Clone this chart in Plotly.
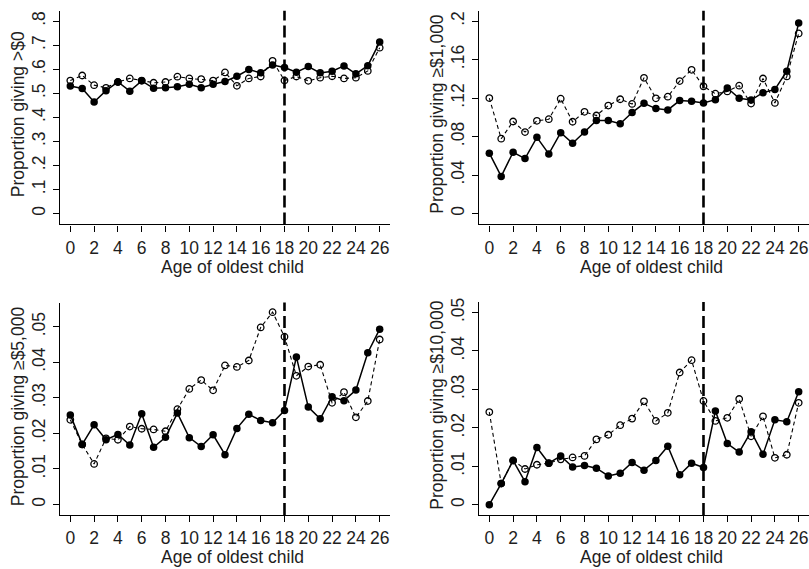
import plotly.graph_objects as go

# ---------------- data ----------------
AGES = list(range(27))
CUTOFF_AGE = 18

# Panel 1: proportion giving > $0
P0_SOLID = [0.530, 0.520, 0.464, 0.511, 0.547, 0.509, 0.552, 0.521, 0.523, 0.527,
            0.538, 0.523, 0.538, 0.549, 0.571, 0.599, 0.585, 0.618, 0.607, 0.588,
            0.611, 0.585, 0.592, 0.614, 0.581, 0.615, 0.713]
P0_HOLLOW = [0.553, 0.574, 0.534, 0.523, 0.547, 0.562, 0.553, 0.544, 0.547, 0.569,
             0.562, 0.559, 0.553, 0.587, 0.531, 0.562, 0.570, 0.635, 0.553, 0.570,
             0.552, 0.565, 0.571, 0.562, 0.565, 0.593, 0.690]

# Panel 2: proportion giving >= $1,000
P1K_SOLID = [0.0627, 0.0386, 0.0637, 0.0571, 0.0792, 0.0620, 0.0840, 0.0730, 0.0847, 0.0967,
             0.0967, 0.0933, 0.1050, 0.1146, 0.1091, 0.1077, 0.1174, 0.1167, 0.1150, 0.1184,
             0.1305, 0.1198, 0.1180, 0.1256, 0.1290, 0.1480, 0.1980]
P1K_HOLLOW = [0.1200, 0.0778, 0.0957, 0.0847, 0.0964, 0.0981, 0.1194, 0.0954, 0.1057, 0.1019,
              0.1122, 0.1188, 0.1139, 0.1411, 0.1198, 0.1215, 0.1377, 0.1494, 0.1322, 0.1246,
              0.1270, 0.1329, 0.1143, 0.1404, 0.1150, 0.1425, 0.1873]

# Panel 3: proportion giving >= $5,000
P5K_SOLID = [0.0252, 0.0169, 0.0224, 0.0182, 0.0197, 0.0167, 0.0255, 0.0161, 0.0189, 0.0257,
             0.0188, 0.0163, 0.0196, 0.0140, 0.0214, 0.0254, 0.0236, 0.0230, 0.0264, 0.0415,
             0.0274, 0.0241, 0.0303, 0.0292, 0.0322, 0.0427, 0.0493]
P5K_HOLLOW = [0.0238, 0.0169, 0.0114, 0.0186, 0.0182, 0.0219, 0.0213, 0.0211, 0.0206, 0.0268,
              0.0325, 0.0350, 0.0321, 0.0391, 0.0387, 0.0405, 0.0498, 0.0541, 0.0472, 0.0362,
              0.0388, 0.0393, 0.0286, 0.0316, 0.0245, 0.0291, 0.0464]

# Panel 4: proportion giving >= $10,000
P10K_SOLID = [0.0000, 0.0055, 0.0115, 0.0060, 0.0149, 0.0108, 0.0127, 0.0098, 0.0102, 0.0095,
              0.0075, 0.0082, 0.0110, 0.0090, 0.0115, 0.0152, 0.0078, 0.0108, 0.0097, 0.0244,
              0.0159, 0.0137, 0.0190, 0.0131, 0.0221, 0.0216, 0.0294]
P10K_HOLLOW = [0.0241, 0.0055, 0.0115, 0.0093, 0.0104, 0.0108, 0.0118, 0.0123, 0.0127, 0.0170,
               0.0182, 0.0207, 0.0224, 0.0269, 0.0218, 0.0239, 0.0344, 0.0376, 0.0270, 0.0218,
               0.0226, 0.0275, 0.0178, 0.0230, 0.0122, 0.0130, 0.0265]

X_TICKS = list(range(0, 27, 2))
Y1_TICKS = [0, 0.1, 0.2, 0.3, 0.4, 0.5, 0.6, 0.7, 0.8]
Y1_LABELS = ["0", ".1", ".2", ".3", ".4", ".5", ".6", ".7", ".8"]
Y2_TICKS = [0, 0.04, 0.08, 0.12, 0.16, 0.2]
Y2_LABELS = ["0", ".04", ".08", ".12", ".16", ".2"]
Y3_TICKS = [0, 0.01, 0.02, 0.03, 0.04, 0.05]
Y3_LABELS = ["0", ".01", ".02", ".03", ".04", ".05"]

Y_TITLES = ["Proportion giving &gt;$0", "Proportion giving \u2265$1,000",
            "Proportion giving \u2265$5,000", "Proportion giving \u2265$10,000"]
X_TITLE = "Age of oldest child"

# ---------------- layout geometry ----------------
W, H = 809, 569
FONT = "Liberation Sans, Arial, Helvetica, sans-serif"
TXT = "#1e1e1e"
FS = 17.5


def px(v):
    return v / W


def py(v):
    return 1 - v / H


panels = [
    dict(solid=P0_SOLID, hollow=P0_HOLLOW, xdom=(59.6, 389.8), ydom=(222, 6.7),
         yrange=(-0.0454, 0.8438), yt=Y1_TICKS, yl=Y1_LABELS, ytc=111, xtc=264.5),
    dict(solid=P1K_SOLID, hollow=P1K_HOLLOW, xdom=(478.6, 808.8), ydom=(222, 6.7),
         yrange=(-0.01136, 0.21094), yt=Y2_TICKS, yl=Y2_LABELS, ytc=110.5, xtc=264.5),
    dict(solid=P5K_SOLID, hollow=P5K_HOLLOW, xdom=(59.6, 389.8), ydom=(514.7, 300.7),
         yrange=(-0.00299, 0.05679), yt=Y3_TICKS, yl=Y3_LABELS, ytc=405, xtc=557.2),
    dict(solid=P10K_SOLID, hollow=P10K_HOLLOW, xdom=(478.6, 808.8), ydom=(514.7, 300.0),
         yrange=(-0.00269, 0.05276), yt=Y3_TICKS, yl=Y3_LABELS, ytc=404.5, xtc=557.2),
]

fig = go.Figure()
layout = dict(
    width=W, height=H, margin=dict(l=0, r=0, t=0, b=0),
    paper_bgcolor="white", plot_bgcolor="white", showlegend=False,
    font=dict(family=FONT, size=FS, color=TXT),
)
annotations = []
shapes = []

for i, p in enumerate(panels):
    n = "" if i == 0 else str(i + 1)
    xa, ya = "x" + n, "y" + n
    fig.add_trace(go.Scatter(
        x=AGES, y=p["hollow"], xaxis=xa, yaxis=ya, mode="lines+markers",
        line=dict(color="black", width=1.1, dash="4px,3px"),
        marker=dict(symbol="circle-open", size=6.5, color="black", line=dict(width=1.3)),
        hoverinfo="skip"))
    fig.add_trace(go.Scatter(
        x=AGES, y=p["solid"], xaxis=xa, yaxis=ya, mode="lines+markers",
        line=dict(color="black", width=1.5),
        marker=dict(symbol="circle", size=7.5, color="black"),
        hoverinfo="skip"))
    layout["xaxis" + n] = dict(
        domain=[px(p["xdom"][0]), px(p["xdom"][1])], anchor=ya,
        range=[-0.9, 26.85], tickvals=X_TICKS, ticks="outside", ticklen=6,
        tickwidth=1.1, tickcolor="black", showline=True, linewidth=1.2,
        linecolor="black", showgrid=False, zeroline=False,
        tickfont=dict(size=FS, color=TXT), ticklabelstandoff=1)
    layout["yaxis" + n] = dict(
        domain=[py(p["ydom"][0]), py(p["ydom"][1])], anchor=xa,
        range=list(p["yrange"]), tickvals=p["yt"], ticktext=p["yl"],
        tickangle=-90, ticks="outside", ticklen=6, tickwidth=1.1,
        tickcolor="black", showline=True, linewidth=1.2, linecolor="black",
        showgrid=False, zeroline=False, tickfont=dict(size=FS, color=TXT),
        ticklabelstandoff=1)
    shapes.append(dict(type="line", xref=xa, yref=ya + " domain",
                       x0=CUTOFF_AGE, x1=CUTOFF_AGE, y0=0, y1=1,
                       line=dict(color="black", width=2.6, dash="12px,5px")))
    xmid = (p["xdom"][0] + p["xdom"][1]) / 2 + 7.5
    annotations.append(dict(text=X_TITLE, xref="paper", yref="paper",
                            x=px(xmid), y=py(p["xtc"]), xanchor="center",
                            yanchor="middle", showarrow=False,
                            font=dict(size=FS, color=TXT)))
    annotations.append(dict(text=Y_TITLES[i], xref="paper", yref="paper",
                            x=px(p["xdom"][0] - 41.6), y=py(p["ytc"]),
                            xanchor="center", yanchor="middle", textangle=-90,
                            showarrow=False, font=dict(size=FS, color=TXT)))

layout["annotations"] = annotations
layout["shapes"] = shapes
fig.update_layout(**layout)
fig.write_html("out.html")
